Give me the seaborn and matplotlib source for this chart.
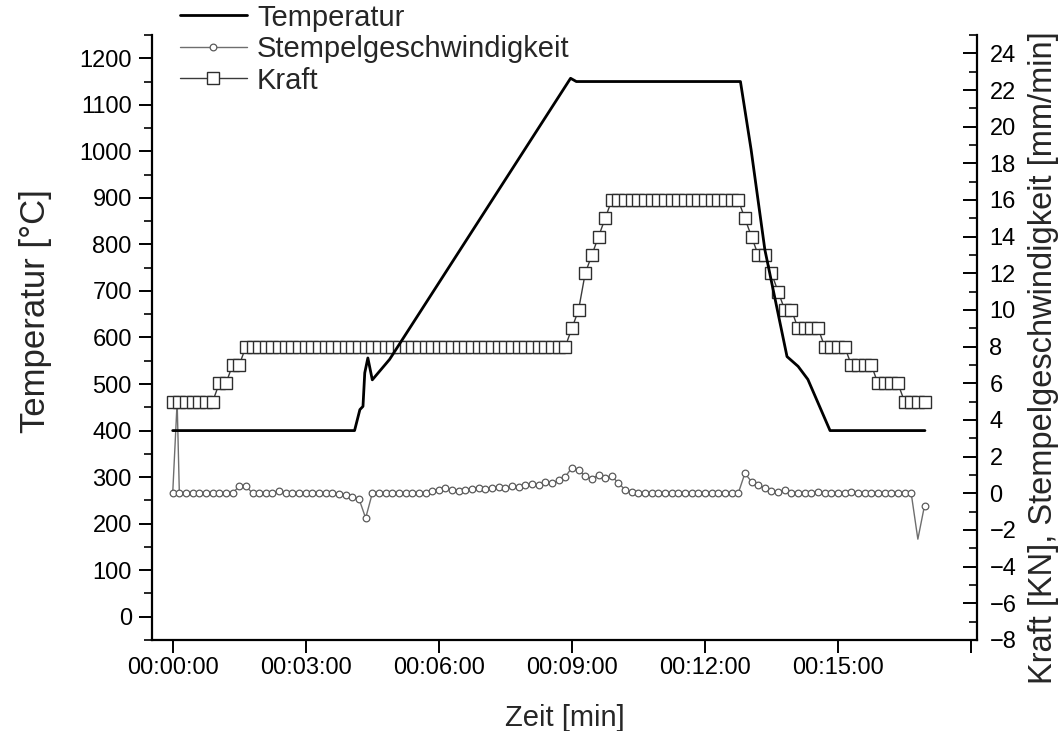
import numpy as np
import pandas as pd
import matplotlib
matplotlib.use("Agg")
import matplotlib.pyplot as plt
from matplotlib.ticker import MultipleLocator
from matplotlib.lines import Line2D
import seaborn as sns

# ---- data -------------------------------------------------------------
# furnace temperature, vertices of the recorded curve
temp_time_min = [0, 4.10, 4.22, 4.29, 4.33, 4.40, 4.50, 4.89, 8.97, 9.10,
                 12.80, 13.04, 13.35, 13.85, 14.10, 14.32, 14.82, 16.96]
temp_c = [400, 400, 445, 452, 524, 556, 509, 553, 1157, 1150,
          1150, 1004, 789, 559, 538, 510, 400, 400]

# press log, one sample every 9 s
sample_step_s = 9
kraft_kn = ([5] * 7 + [6] * 2 + [7] * 2 + [8] * 49
            + [9, 10, 12, 13, 14, 15] + [16] * 20
            + [15, 14, 13, 13, 12, 11, 10, 10]
            + [9] * 4 + [8] * 4 + [7] * 4 + [6] * 4 + [5] * 4)
speed_mm_min = ([0] * 10 + [0.4, 0.4] + [0] * 4 + [0.13] + [0] * 8
                + [-0.05, -0.1, -0.2, -0.3, -1.35] + [0] * 9
                + [0.15, 0.2, 0.3]
                + [0.2, 0.15, 0.2, 0.25, 0.3, 0.25, 0.3, 0.35, 0.3]
                + [0.4, 0.35, 0.45, 0.5, 0.45, 0.6, 0.55, 0.7, 0.9]
                + [1.4, 1.25, 0.95, 0.8, 1.0, 0.85, 0.95, 0.55, 0.2, 0.05]
                + [0] * 16
                + [1.09, 0.64, 0.46, 0.28, 0.13, 0.09, 0.18, 0.04]
                + [0, 0, 0, 0.08, 0, 0, 0, 0, 0.08, 0, 0, 0, 0, 0, 0, 0, 0, 0]
                + [-2.5, -0.67])
speed_unmarked = [112]
# short spikes logged between two regular samples
speed_spike_time_s = [6]
speed_spike_value = [5.0]

x_tick_s = [0, 180, 360, 540, 720, 900, 1080]
x_tick_labels = ["00:00:00", "00:03:00", "00:06:00", "00:09:00", "00:12:00", "00:15:00", ""]
temp_ticks = list(range(0, 1201, 100))
right_ticks = list(range(-8, 25, 2))

labels = ["Temperatur", "Stempelgeschwindigkeit", "Kraft"]

# ---- frames -------------------------------------------------------------
grid_s = np.arange(len(kraft_kn)) * sample_step_s
df_temp = pd.DataFrame({"t": np.array(temp_time_min) * 60.0, "temp": temp_c})
df_kraft = pd.DataFrame({"t": grid_s, "kraft": kraft_kn})
df_speed = pd.concat([
    pd.DataFrame({"t": grid_s, "speed": speed_mm_min,
                  "marked": [i not in speed_unmarked for i in range(len(grid_s))]}),
    pd.DataFrame({"t": speed_spike_time_s, "speed": speed_spike_value,
                  "marked": [False] * len(speed_spike_time_s)}),
]).sort_values("t", kind="stable").reset_index(drop=True)

# ---- style --------------------------------------------------------------
sns.set_theme(style="white")
plt.rcParams["font.family"] = ["Liberation Sans", "DejaVu Sans"]
plt.rcParams["axes.linewidth"] = 1.5

fig = plt.figure(figsize=(10.64, 7.31), dpi=100)
ax = fig.add_axes([0.14286, 0.12449, 0.77537, 0.82763])
ax2 = ax.twinx()

temp_kw = dict(color="black", linewidth=2.0)
speed_kw = dict(color="#6e6e6e", linewidth=1.0, marker="o", markersize=4.8,
                markerfacecolor="white", markeredgecolor="#5a5a5a", markeredgewidth=0.9)
kraft_kw = dict(color="#3a3a3a", linewidth=1.0, marker="s", markersize=9.0,
                markerfacecolor="white", markeredgecolor="#2e2e2e", markeredgewidth=1.0)

sns.lineplot(data=df_speed, x="t", y="speed", ax=ax2, estimator=None, sort=False,
             markevery=list(df_speed["marked"]), **speed_kw)
sns.lineplot(data=df_kraft, x="t", y="kraft", ax=ax2, estimator=None, sort=False, **kraft_kw)
sns.lineplot(data=df_temp, x="t", y="temp", ax=ax, estimator=None, sort=False, **temp_kw)

# temperature curve on top of the press data
ax.set_zorder(ax2.get_zorder() + 1)
ax.patch.set_visible(False)

# ---- axes ---------------------------------------------------------------
ax.set_xlim(-28, 1088)
ax.set_ylim(-50, 1250)
ax2.set_ylim(-8, 25)

ax.set_xticks(x_tick_s, labels=x_tick_labels)
ax.set_yticks(temp_ticks)
ax.yaxis.set_minor_locator(MultipleLocator(50))
ax2.set_yticks(right_ticks)
ax2.yaxis.set_minor_locator(MultipleLocator(1))

for a in (ax, ax2):
    for s in a.spines.values():
        s.set_visible(False)
        s.set_linewidth(1.6)
        s.set_color("black")
ax.spines["left"].set_visible(True)
ax.spines["bottom"].set_visible(True)
ax2.spines["right"].set_visible(True)

ax.tick_params(axis="y", which="major", direction="out", length=9.5, width=1.4,
               labelsize=17, pad=5, left=True, colors="black")
ax.tick_params(axis="y", which="minor", direction="out", length=5.5, width=1.4, left=True)
ax.tick_params(axis="x", which="major", direction="out", length=9.5, width=1.4,
               labelsize=17, pad=3, bottom=True, colors="black")
ax2.tick_params(axis="y", which="major", direction="in", length=10, width=1.4,
                labelsize=17, pad=9, right=True, colors="black")
ax2.tick_params(axis="y", which="minor", direction="in", length=5.5, width=1.4, right=True)

ax.set_xlabel("Zeit [min]", fontsize=21, labelpad=18)
ax.set_ylabel("Temperatur [°C]", fontsize=25)
ax2.set_ylabel("Kraft [KN], Stempelgeschwindigkeit [mm/min]", fontsize=23.5)
ax.yaxis.set_label_coords(-0.121, 0.543)
ax2.yaxis.set_label_coords(1.062, 0.466)

for a in (ax, ax2):
    leg = a.get_legend()
    if leg is not None:
        leg.remove()

handles = [
    Line2D([], [], **temp_kw),
    Line2D([], [], **speed_kw),
    Line2D([], [], **kraft_kw),
]
fig.legend(handles, labels, loc="upper left", bbox_to_anchor=(0.169, 0.995),
           frameon=False, fontsize=21, handlelength=2.3, handletextpad=0.35,
           labelspacing=0.12, borderpad=0, borderaxespad=0)

fig.savefig("out.png", dpi=100)
